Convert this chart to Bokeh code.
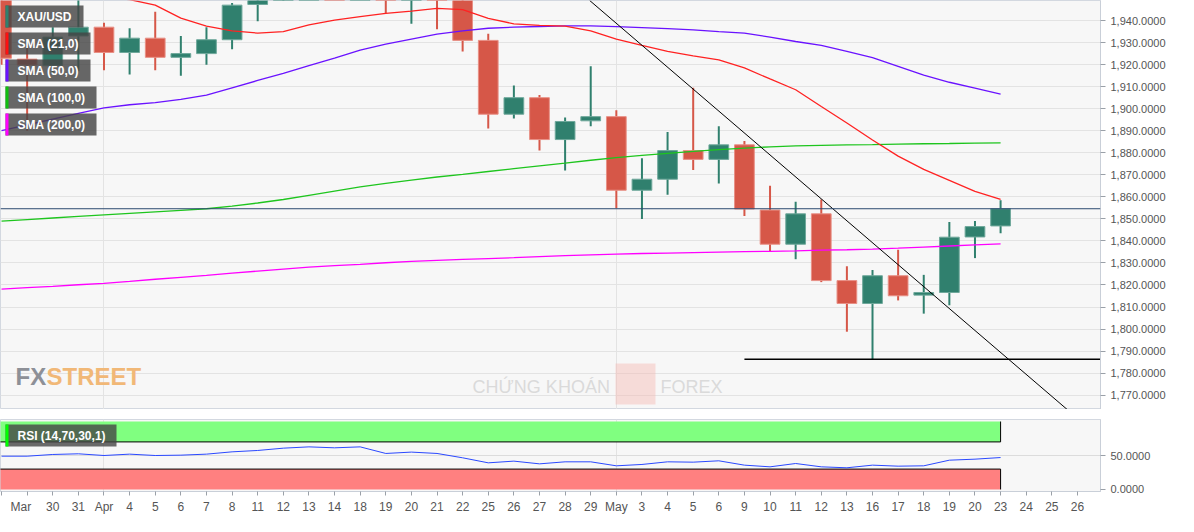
from bokeh.plotting import figure
from bokeh.models import (ColumnDataSource, Range1d, FixedTicker, SingleIntervalTicker,
                          NumeralTickFormatter, Span, Label, BoxAnnotation)
from bokeh.layouts import column
from bokeh.embed import file_html
from bokeh.resources import INLINE

# ---------------- data ----------------
dates = ["Mar 28", "Mar 29", "Mar 30", "Mar 31", "Apr 1", "Apr 4", "Apr 5", "Apr 6", "Apr 7", "Apr 8",
         "Apr 11", "Apr 12", "Apr 13", "Apr 14", "Apr 18", "Apr 19", "Apr 20", "Apr 21", "Apr 22",
         "Apr 25", "Apr 26", "Apr 27", "Apr 28", "Apr 29", "May 2", "May 3", "May 4", "May 5", "May 6",
         "May 9", "May 10", "May 11", "May 12", "May 13", "May 16", "May 17", "May 18", "May 19",
         "May 20", "May 23"]

axis_labels = ["Mar", "", "30", "31", "Apr", "4", "5", "6", "7", "8", "11", "12", "13", "14", "18",
               "19", "20", "21", "22", "25", "26", "27", "28", "29", "May", "3", "4", "5", "6", "9",
               "10", "11", "12", "13", "16", "17", "18", "19", "20", "23", "24", "25", "26"]

opens = [1955, 1922.5, 1919.5, 1933, 1937, 1925.5, 1932, 1923.3, 1925, 1931.3, 1947.3, 1954, 1966,
         1977, 1974, 1979, 1950.5, 1958, 1951, 1931, 1897.5, 1905, 1886, 1894.5, 1896.4, 1863, 1868,
         1881, 1877, 1883.6, 1854, 1838.5, 1852.3, 1822, 1811.6, 1824.2, 1815.4, 1816.6, 1841.8, 1846.8]
highs = [1960, 1929, 1937, 1950, 1939, 1936.5, 1944, 1933, 1937, 1948, 1960, 1970, 1981, 1978, 1998,
         1983, 1960, 1961, 1954, 1934, 1910.5, 1906.2, 1896, 1919.3, 1899.3, 1877.5, 1889.4, 1909.5,
         1892, 1885.3, 1865, 1857.8, 1858.8, 1828.5, 1826.8, 1836, 1824.6, 1848.6, 1849, 1858.5]
lows = [1920, 1890, 1916, 1917, 1917.5, 1915.5, 1917.4, 1915, 1920, 1927, 1939.7, 1949, 1963, 1962,
        1972, 1943.3, 1938.6, 1936, 1926, 1891, 1895.5, 1881, 1872, 1892, 1854.8, 1850, 1861, 1872.2,
        1866, 1851.3, 1835, 1831.7, 1821.3, 1798.8, 1786.3, 1813, 1807, 1810.8, 1832.2, 1843.5]
closes = [1922.9, 1919.8, 1932.5, 1937, 1925.5, 1932, 1923.3, 1925, 1931.3, 1947, 1954, 1966, 1977,
          1974, 1979, 1950.5, 1958, 1951, 1931, 1897.5, 1905, 1886, 1894.2, 1896.4, 1863, 1868, 1881,
          1877, 1883.6, 1854.5, 1838.5, 1852.3, 1822, 1811.6, 1824.2, 1815.1, 1816.6, 1841.7, 1846.5,
          1854.6]

sma21 = [1958, 1956, 1954, 1952, 1950.5, 1949.5, 1947, 1941.1, 1937.5, 1935.3, 1934.3, 1935, 1938,
         1940.2, 1941.8, 1943.3, 1944.3, 1945.5, 1945, 1941, 1938.5, 1937.8, 1937.5, 1935.3, 1931.6,
         1928.7, 1926, 1924, 1922.2, 1918.5, 1913.5, 1908.6, 1901, 1893.5, 1885.8, 1878.5, 1872.5,
         1867.5, 1862.5, 1858.8]
sma50 = [1890.1, 1892.7, 1895.3, 1897.9, 1900.4, 1901.8, 1902.8, 1904.2, 1906.2, 1909.5, 1912.8,
         1916, 1919.5, 1923, 1926.6, 1929.3, 1931.6, 1933.8, 1935.3, 1936.5, 1937, 1937.3, 1937.6,
         1937.6, 1937.2, 1936.8, 1936.3, 1935.8, 1935.0, 1934.3, 1932.5, 1930.5, 1928.7, 1926, 1923.2,
         1919.2, 1915.2, 1912, 1909.3, 1906.6]
sma100 = [1849, 1849.7, 1850.4, 1851.1, 1851.8, 1852.5, 1853.2, 1853.9, 1854.6, 1855.8, 1857.2,
          1858.8, 1860.7, 1862.6, 1864.5, 1866.1, 1867.6, 1869, 1870.2, 1871.5, 1872.8, 1874.1,
          1875.3, 1876.6, 1877.8, 1878.8, 1879.7, 1880.6, 1881.4, 1882.1, 1882.7, 1883.1, 1883.4,
          1883.6, 1883.7, 1883.9, 1884.1, 1884.2, 1884.4, 1884.5]
sma200 = [1818.1, 1818.8, 1819.4, 1820.1, 1820.7, 1821.6, 1822.6, 1823.5, 1824.4, 1825.4, 1826.3,
          1827.2, 1828.1, 1828.8, 1829.4, 1830.1, 1830.7, 1831.2, 1831.6, 1832, 1832.4, 1832.9,
          1833.3, 1833.7, 1834.0, 1834.3, 1834.5, 1834.7, 1834.9, 1835.1, 1835.3, 1835.5, 1835.8,
          1836, 1836.3, 1836.7, 1837.2, 1837.7, 1838.2, 1838.7]
rsi = [49, 49, 51.5, 52.5, 50, 52, 50, 50.5, 52, 55.4, 57.4, 60.8, 62.7, 61.3, 62.7, 53, 55, 53,
       46.6, 39.2, 41.7, 37.7, 40.7, 40.7, 34.8, 36.8, 40.7, 40.2, 42.2, 35.8, 33.3, 38.2, 33.3,
       31.9, 35.8, 34.3, 34.8, 43.1, 44.6, 47]

last_price = 1854.6
support_level = 1786.3
support_start = "May 9"
trend_x = [22.96, 41.6]
trend_y = [1949.1, 1763.5]
rsi_upper, rsi_lower, rsi_top, rsi_bottom = 70, 30, 100, 0
month_starts = ["Apr 1", "May 2"]

# ---------------- style ----------------
UP, DOWN = "#30806e", "#d65748"
UP_EDGE, DOWN_EDGE = "#6fa89b", "#e89086"
BG = "#f7f7f7"
GRID = "#e3e3e3"
AXIS_TXT = "#555555"
FRAME_W, MAIN_H, RSI_H, RIGHT_W = 1100, 409, 72, 78
FONT = "Liberation Sans"

xi = list(range(len(dates)))
pos = {d: i for i, d in enumerate(dates)}
x_range = Range1d(-0.04, 42.9)

src = ColumnDataSource(dict(
    x=xi, o=opens, h=highs, l=lows, c=closes,
    top=[max(o, c) for o, c in zip(opens, closes)],
    bot=[min(o, c) for o, c in zip(opens, closes)],
    col=[UP if c >= o else DOWN for o, c in zip(opens, closes)],
    edge=[UP_EDGE if c >= o else DOWN_EDGE for o, c in zip(opens, closes)],
))


def screen_box(fig, left, right, bottom, top, color, alpha, level="annotation"):
    fig.add_layout(BoxAnnotation(left=left, right=right, bottom=bottom, top=top,
                                 left_units="screen", right_units="screen",
                                 bottom_units="screen", top_units="screen",
                                 fill_color=color, fill_alpha=alpha, line_color=None,
                                 level=level))


# ---------------- main price panel ----------------
p = figure(x_range=x_range, y_range=Range1d(1763.5, 1949.1), frame_width=FRAME_W,
           frame_height=MAIN_H, output_backend="svg", toolbar_location=None,
           x_axis_location=None, y_axis_location="right",
           min_border_left=0, min_border_top=0, min_border_bottom=0, min_border_right=RIGHT_W,
           background_fill_color=BG, border_fill_color="white", outline_line_color="#d3d8e0")

p.yaxis.ticker = SingleIntervalTicker(interval=10)
p.yaxis.formatter = NumeralTickFormatter(format="0,0.0000")
p.yaxis.major_label_text_font_size = "11px"
p.yaxis.major_label_text_font = FONT
p.yaxis.major_label_text_color = AXIS_TXT
p.yaxis.axis_line_color = "#c9cfd8"
p.yaxis.major_tick_line_color = "#9aa0a8"
p.yaxis.major_tick_out = 5
p.yaxis.major_tick_in = 0
p.yaxis.minor_tick_line_color = None
p.ygrid.grid_line_color = GRID
p.xgrid.ticker = FixedTicker(ticks=[pos[m] for m in month_starts])
p.xgrid.grid_line_color = GRID

# watermarks
p.add_layout(Label(x=15, y=20, x_units="screen", y_units="screen", text="FX",
                   text_font=FONT, text_font_style="bold", text_font_size="24px",
                   text_color="#8d9097", level="underlay"))
p.add_layout(Label(x=46, y=20, x_units="screen", y_units="screen", text="STREET",
                   text_font=FONT, text_font_style="bold", text_font_size="24px",
                   text_color="#f1b877", level="underlay"))
p.add_layout(Label(x=472, y=13, x_units="screen", y_units="screen", text="CHỨNG KHOÁN",
                   text_font=FONT, text_font_size="18px", text_color="#dadada",
                   level="underlay"))
screen_box(p, 615, 655, 5, 46, "#f3b8b2", 0.45, level="underlay")
p.add_layout(Label(x=660, y=13, x_units="screen", y_units="screen", text="FOREX",
                   text_font=FONT, text_font_size="18px", text_color="#dadada",
                   level="underlay"))

# candles
p.segment(x0="x", x1="x", y0="l", y1="h", source=src, line_color="col", line_width=2)
p.vbar(x="x", width=0.77, top="top", bottom="bot", source=src, fill_color="col",
       line_color="edge", line_width=1)

# moving averages
p.line(xi, sma200, line_color="#ff00ff", line_width=1.3)
p.line(xi, sma100, line_color="#1ec51e", line_width=1.3)
p.line(xi, sma50, line_color="#6a12ff", line_width=1.3)
p.line(xi, sma21, line_color="#ff2222", line_width=1.3)

# drawings
p.line(trend_x, trend_y, line_color="black", line_width=1)
p.segment(x0=[pos[support_start]], x1=[x_range.end + 1], y0=[support_level], y1=[support_level],
          line_color="black", line_width=1.5)
p.add_layout(Span(location=last_price, dimension="width", line_color="#2c4a70", line_width=1))
p.add_layout(Label(x=x_range.end, y=last_price, x_offset=6, text=f"{last_price:,.4f}",
                   text_baseline="middle", text_font=FONT, text_font_style="bold",
                   text_font_size="12px", text_color="white", background_fill_color="#2c4a70",
                   padding=2))


# legend boxes
def legend_box(fig, fh, top, width, label, color):
    screen_box(fig, 5, 5 + width, fh - top - 22, fh - top, "#454545", 0.82)
    screen_box(fig, 5, 8, fh - top - 22, fh - top, color, 1)
    fig.add_layout(Label(x=17, y=fh - top - 11, x_units="screen", y_units="screen", text=label,
                         text_baseline="middle", text_font=FONT, text_font_style="bold",
                         text_font_size="12px", text_color="white"))


legend_box(p, MAIN_H, 5, 78, "XAU/USD", UP)
legend_box(p, MAIN_H, 32, 85, "SMA (21,0)", "#ff1010")
legend_box(p, MAIN_H, 59, 85, "SMA (50,0)", "#6a12ff")
legend_box(p, MAIN_H, 86, 91, "SMA (100,0)", "#10c010")
legend_box(p, MAIN_H, 113, 91, "SMA (200,0)", "#ff00ff")

# ---------------- RSI panel ----------------
r = figure(x_range=x_range, y_range=Range1d(-3, 103), frame_width=FRAME_W, frame_height=RSI_H,
           output_backend="svg", toolbar_location=None, y_axis_location="right",
           min_border_left=0, min_border_top=10, min_border_bottom=25, min_border_right=RIGHT_W,
           background_fill_color=BG, border_fill_color="white", outline_line_color="#d3d8e0")
r.yaxis.ticker = FixedTicker(ticks=[0, 50])
r.yaxis.formatter = NumeralTickFormatter(format="0.0000")
r.yaxis.major_label_text_font_size = "11px"
r.yaxis.major_label_text_font = FONT
r.yaxis.major_label_text_color = AXIS_TXT
r.yaxis.axis_line_color = "#c9cfd8"
r.yaxis.major_tick_line_color = "#9aa0a8"
r.yaxis.major_tick_out = 5
r.yaxis.major_tick_in = 0
r.yaxis.minor_tick_line_color = None
r.ygrid.ticker = FixedTicker(ticks=[50])
r.ygrid.grid_line_color = "#dcdcdc"
r.xgrid.ticker = FixedTicker(ticks=[pos[m] for m in month_starts])
r.xgrid.grid_line_color = GRID

ticks = list(range(len(axis_labels)))
r.xaxis.ticker = FixedTicker(ticks=ticks)
overrides = {i: lab for i, lab in enumerate(axis_labels)}
overrides[0] = "\u00a0" * 3 + axis_labels[0]
r.xaxis.major_label_overrides = overrides
r.xaxis.major_label_text_font_size = "12px"
r.xaxis.major_label_text_font = FONT
r.xaxis.major_label_text_color = AXIS_TXT
r.xaxis.axis_line_color = "#c9cfd8"
r.xaxis.major_tick_line_color = "#9aa0a8"
r.xaxis.major_tick_out = 4
r.xaxis.major_tick_in = 0
r.xaxis.minor_tick_line_color = None
r.xaxis.major_label_standoff = 4

last = len(dates) - 1
r.quad(left=[-1], right=[last], bottom=[rsi_upper], top=[rsi_top], fill_color="#80ff80",
       line_color=None)
r.quad(left=[-1], right=[last], bottom=[rsi_bottom], top=[rsi_lower], fill_color="#ff8080",
       line_color=None)
r.multi_line(xs=[[-1, last], [-1, last], [last, last], [last, last]],
             ys=[[rsi_upper, rsi_upper], [rsi_lower, rsi_lower], [rsi_upper, rsi_top],
                 [rsi_bottom, rsi_lower]], line_color="black", line_width=1)
r.line(xi, rsi, line_color="#2a48ff", line_width=1)

screen_box(r, 5, 116, RSI_H - 27, RSI_H - 5, "#454545", 0.8)
screen_box(r, 5, 8, RSI_H - 27, RSI_H - 5, "#00ff00", 1)
r.add_layout(Label(x=17, y=RSI_H - 16, x_units="screen", y_units="screen",
                   text="RSI (14,70,30,1)", text_baseline="middle", text_font=FONT,
                   text_font_style="bold", text_font_size="12px", text_color="white"))
# panel resize handle
screen_box(r, 545, 565, RSI_H + 6, RSI_H + 7, "#777777", 1)
screen_box(r, 545, 565, RSI_H + 3, RSI_H + 4, "#777777", 1)

layout = column(p, r, spacing=0)
open("out.html", "w").write(file_html(layout, INLINE))
